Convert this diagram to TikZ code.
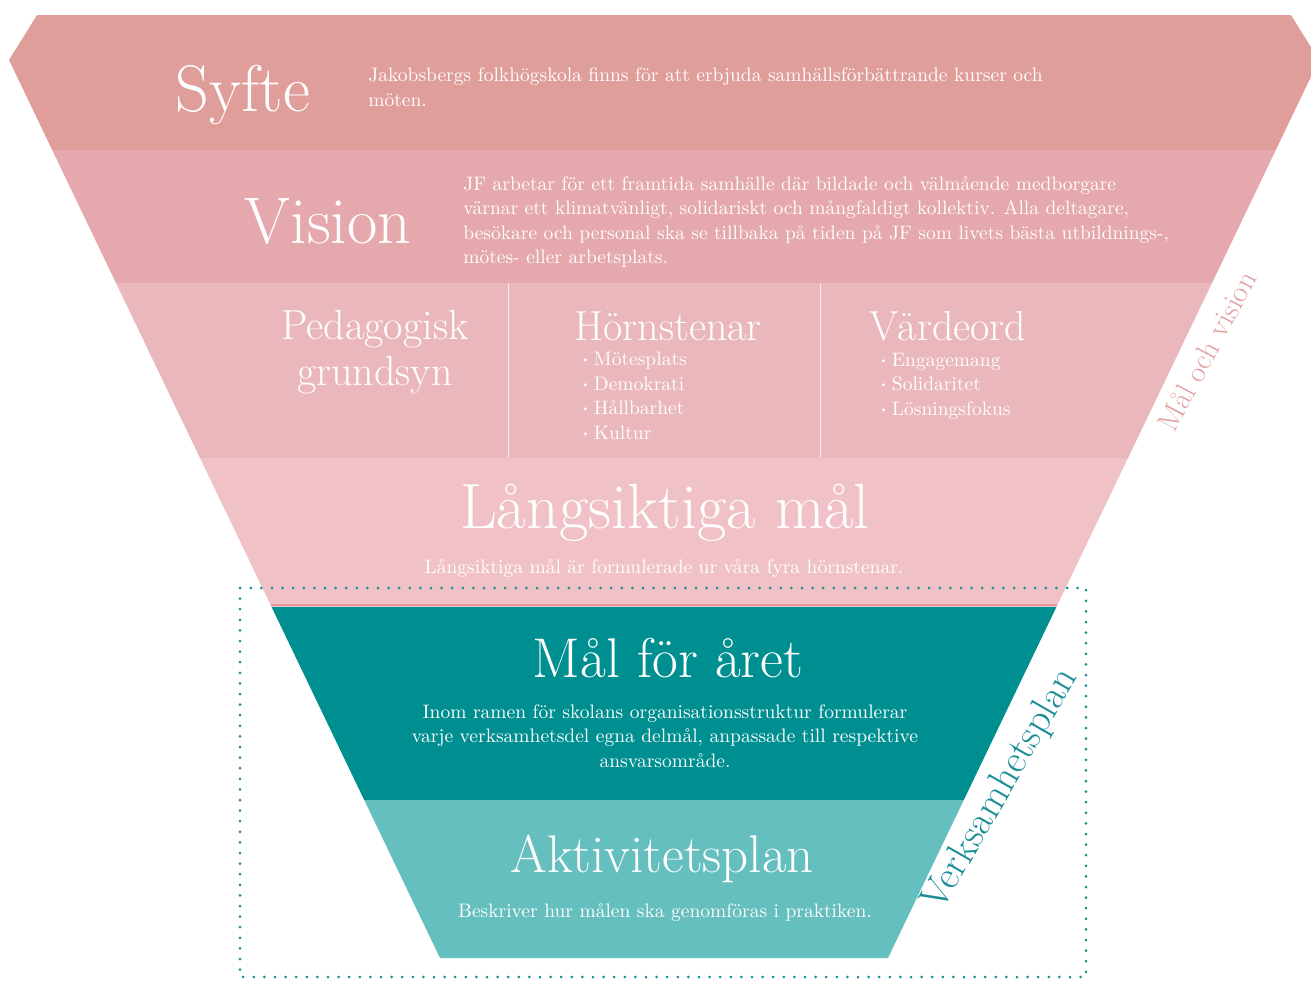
\documentclass[tikz,border=0pt]{standalone}
\definecolor{syftepink}{HTML}{E09E9B}
\definecolor{visionpink}{HTML}{E5A8AC}
\definecolor{midpink}{HTML}{EAB7BC}
\definecolor{langpink}{HTML}{F0C2C8}
\definecolor{seampink}{HTML}{E497A3}
\definecolor{arsteal}{HTML}{008F91}
\definecolor{aktteal}{HTML}{66BFBF}
\definecolor{frameteal}{HTML}{1A8E96}
\definecolor{sidepink}{HTML}{E2A2A2}
\newcommand{\blt}{\raisebox{.3ex}{\tiny\textbullet}\,}
\tikzset{
  headtxt/.style={anchor=base, inner sep=0pt, text=white, font=\fontsize{#1}{#1}\selectfont},
  subtxt/.style={anchor=base, inner sep=0pt, text=white, align=center, font=\fontsize{21}{23}\selectfont},
  bodytxt/.style={inner sep=0pt, text=white, font=\fontsize{9.75}{12.25}\selectfont},
  sidetxt/.style={inner sep=0pt, font=\fontsize{#1}{#1}\selectfont},
  dotframe/.style={draw=frameteal, line width=1.5pt, line cap=round, dash pattern=on 0pt off 5.3pt}
}
\begin{document}
\begin{tikzpicture}[x=0.5pt,y=-0.5pt] %Trappa fran syfte till aktivitetsplan
  \useasboundingbox (0,0) rectangle (1311,981);
  \clip (0,0) rectangle (1311,981);
  % banden
  \fill[syftepink] (37,15) -- (1291,15) -- (1319,60) -- (1275.8,150) -- (52.2,150) -- (9,60) -- cycle;
  \fill[visionpink] (52.2,150) -- (1275.8,150) -- (1212,283) -- (116,283) -- cycle;
  \fill[midpink] (116,283) -- (1212,283) -- (1128,458) -- (200,458) -- cycle;
  \fill[langpink] (200,458) -- (1128,458) -- (1056.4,607) -- (271.6,607) -- cycle;
  \fill[arsteal] (271.6,607) -- (1056.4,607) -- (963.8,800) -- (364.2,800) -- cycle;
  \fill[aktteal] (364.2,800) -- (963.8,800) -- (888,958) -- (440,958) -- cycle;
  \draw[seampink, line width=1pt] (270.6,605) -- (1057.4,605);
  \draw[white!70!midpink, line width=0.5pt] (508,283) -- (508,458);
  \draw[white!70!midpink, line width=0.5pt] (820,283) -- (820,458);
  \draw[dotframe] (240,588) rectangle (1086,977);

  % rubriker och texter (base = sista radens baslinje)
  \node[headtxt=33] (syfte) at (243,111) {Syfte};
  \node[bodytxt, anchor=base west, align=left] (syftetxt) at (368,106)
    {Jakobsbergs folkhögskola finns för att erbjuda samhällsförbättrande kurser och\\möten.};
  \node[headtxt=33] (vision) at (328,243) {Vision};
  \node[bodytxt, anchor=base west, align=left] (visiontxt) at (463,263.5)
    {JF arbetar för ett framtida samhälle där bildade och välmående medborgare\\
     värnar ett klimatvänligt, solidariskt och mångfaldigt kollektiv. Alla deltagare,\\
     besökare och personal ska se tillbaka på tiden på JF som livets bästa utbildnings-,\\
     mötes- eller arbetsplats.};

  \node[subtxt] (pedagogik) at (375,385) {Pedagogisk\\grundsyn};
  \node[subtxt] (hornstenar) at (668,340) {Hörnstenar};
  \node[bodytxt, anchor=base west, align=left] (hornlista) at (580,439)
    {\blt Mötesplats\\\blt Demokrati\\\blt Hållbarhet\\\blt Kultur};
  \node[subtxt] (vardeord) at (948,340) {Värdeord};
  \node[bodytxt, anchor=base west, align=left] (vardelista) at (878,415)
    {\blt Engagemang\\\blt Solidaritet\\\blt Lösningsfokus};

  \node[headtxt=32] (langmal) at (665,528) {Långsiktiga mål};
  \node[bodytxt, anchor=base] (langtxt) at (664,573)
    {Långsiktiga mål är formulerade ur våra fyra hörnstenar.};

  \node[headtxt=28] (arsmal) at (668,677) {Mål för året};
  \node[bodytxt, anchor=base, align=center] (arstxt) at (665,767)
    {Inom ramen för skolans organisationsstruktur formulerar\\
     varje verksamhetsdel egna delmål, anpassade till respektive\\
     ansvarsområde.};
  \node[headtxt=26.5] (aktivitet) at (662,872) {Aktivitetsplan};
  \node[bodytxt, anchor=base] (akttxt) at (665,917)
    {Beskriver hur målen ska genomföras i praktiken.};

  \node[sidetxt=15, rotate=62, text=sidepink] (malvision) at (1207,351) {Mål och vision};
  \node[sidetxt=20, rotate=60, text=frameteal] (verksamhet) at (1001,790) {Verksamhetsplan};
\end{tikzpicture}
\end{document}
